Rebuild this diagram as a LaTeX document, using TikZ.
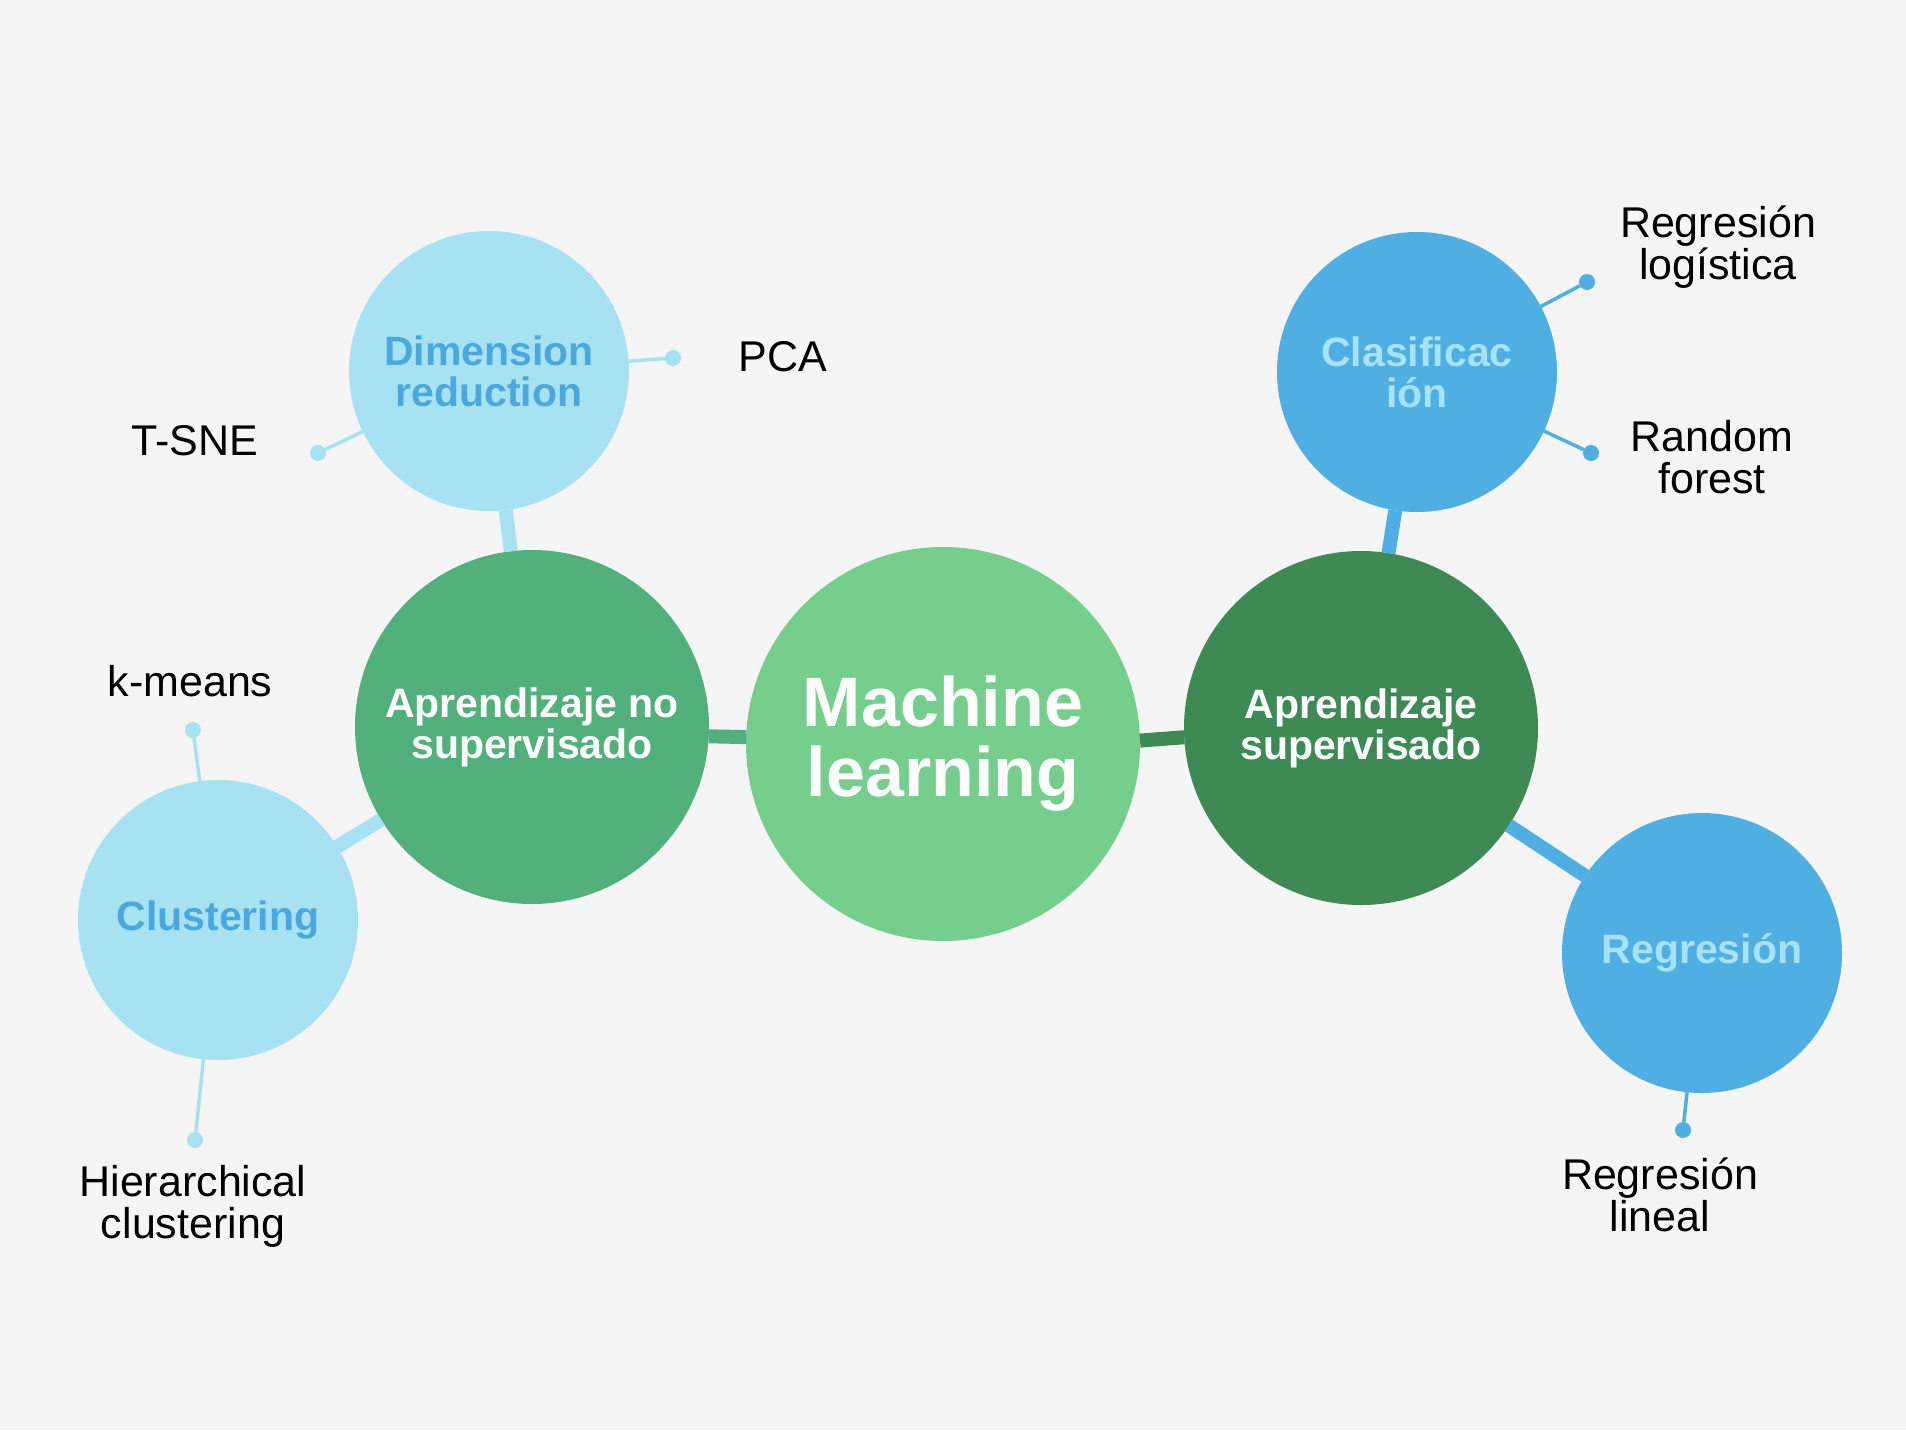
\documentclass[tikz,border=0pt]{standalone}
\usepackage{fontspec}
\setmainfont{Liberation Sans}
\usepackage{xcolor}
\usepackage{tikz}
\definecolor{fondo}{HTML}{F5F5F5}
\definecolor{verdeClaro}{HTML}{75CE8C}
\definecolor{verdeMedio}{HTML}{52B07A}
\definecolor{verdeOscuro}{HTML}{3D8A54}
\definecolor{celeste}{HTML}{A7E2F3}
\definecolor{azul}{HTML}{4FAEE2}
\definecolor{azulTexto}{HTML}{4AA8DE}
\definecolor{celesteTexto}{HTML}{A5E3F7}

\begin{document}
\begin{tikzpicture}[x=1pt,y=-1pt,
circ/.style={circle,inner sep=0pt,outer sep=0pt,align=center,font=\fontsize{41}{41}\selectfont\bfseries},
hoja/.style={align=center,font=\fontsize{43}{42}\selectfont,text=black},
punto/.style={circle,inner sep=0pt,outer sep=0pt,minimum size=16pt,fill=#1},
grueso/.style={line width=14pt,draw=#1},
fino/.style={line width=3.5pt,draw=#1}]
\fill[fondo](0,0)rectangle(1906,1430);
\node[circ,fill=verdeClaro,minimum size=394pt,text=white,font=\fontsize{70}{70}\selectfont\bfseries](ml)at(943,744){Machine\\learning};
\node[circ,fill=verdeMedio,minimum size=354pt,text=white](noSup)at(532,727){Aprendizaje no\\supervisado};
\node[circ,fill=verdeOscuro,minimum size=354pt,text=white](sup)at(1361,728){Aprendizaje\\supervisado};
\node[circ,fill=celeste,minimum size=280pt,text=azulTexto](dim)at(489,371){Dimension\\reduction};
\node[circ,fill=celeste,minimum size=280pt,text=azulTexto](clu)at(218,920){Clustering};
\node[circ,fill=azul,minimum size=280pt,text=celesteTexto](cla)at(1417,372){Clasificac\\ión};
\node[circ,fill=azul,minimum size=280pt,text=celesteTexto](reg)at(1702,953){Regresión};
\draw[grueso=verdeMedio](noSup.-3.6)--(ml.178.3);
\draw[grueso=verdeOscuro](ml.1.7)--(sup.183.2);
\draw[grueso=celeste](dim)--(noSup);
\draw[grueso=celeste](clu)--(noSup);
\draw[grueso=azul](cla)--(sup);
\draw[grueso=azul](reg)--(sup);
\node[punto=celeste](pcaP)at(673,358){};
\node[punto=celeste](tsneP)at(318,453){};
\node[punto=celeste](kmP)at(193,730){};
\node[punto=celeste](hcP)at(195,1140){};
\node[punto=azul](rlogP)at(1587,282){};
\node[punto=azul](rfP)at(1591,453){};
\node[punto=azul](rlinP)at(1683,1130){};
\draw[fino=celeste](dim)--(pcaP);
\draw[fino=celeste](dim)--(tsneP);
\draw[fino=celeste](clu)--(kmP);
\draw[fino=celeste](clu)--(hcP);
\draw[fino=azul](cla)--(rlogP);
\draw[fino=azul](cla)--(rfP);
\draw[fino=azul](reg)--(rlinP);
\node[hoja](pca)at(783,357){PCA};
\node[hoja](tsne)at(195,441){T-SNE};
\node[hoja](km)at(190,681){k-means};
\node[hoja](hc)at(193,1206){Hierarchical\\clustering};
\node[hoja](rlog)at(1718,247){Regresión\\logística};
\node[hoja](rf)at(1712,457){Random\\forest};
\node[hoja](rlin)at(1660,1195){Regresión\\lineal};
\end{tikzpicture}
\end{document}
